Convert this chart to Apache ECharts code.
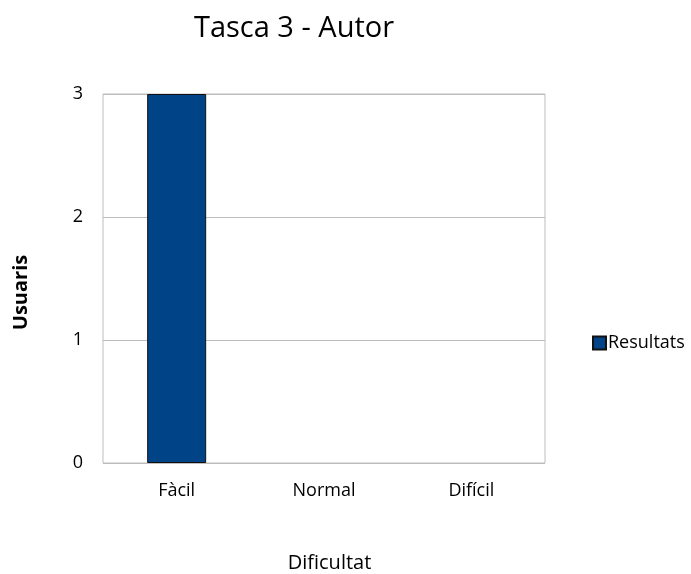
<!DOCTYPE html>
<html>
<head>
<meta charset="utf-8">
<script src="https://cdn.jsdelivr.net/npm/echarts@6/dist/echarts.min.js"></script>
<style>
html,body{margin:0;padding:0;background:#fff;}
#main{width:691px;height:574px;}
</style>
</head>
<body>
<div id="main"></div>
<script>
var categories = ['Fàcil', 'Normal', 'Difícil'];
var resultats = [3, 0, 0];
var yTicks = [0, 1, 2, 3];

var myChart = echarts.init(document.getElementById('main'));
var font = '"Open Sans", "Noto Sans", sans-serif';
var option = {
    animation: false,
    title: {
        text: 'Tasca 3 - Autor',
        left: 289,
        top: 9,
        textAlign: 'center',
        textStyle: { fontFamily: font, fontSize: 29, fontWeight: 'normal', color: '#000' }
    },
    legend: {
        data: ['Resultats'],
        orient: 'vertical',
        left: 587,
        top: 329,
        itemWidth: 13,
        itemHeight: 13,
        itemGap: 4,
        textStyle: { fontFamily: font, fontSize: 18, color: '#000', padding: [0, 0, 0, -3] },
        icon: 'rect'
    },
    grid: {   //绘图区
        left: 103,
        right: 146,
        top: 94,
        bottom: 111,
        outerBoundsMode: 'none',
        show: true,
        borderColor: '#bdbdbd',
        borderWidth: 1
    },
    xAxis: {
        type: 'category',
        data: categories,
        name: 'Dificultat',
        nameLocation: 'middle',
        nameGap: 90,
        nameTextStyle: { fontFamily: font, fontSize: 20, color: '#000', padding: [0, 0, 0, 11] },
        axisLine: { show: false },
        axisTick: { show: false },
        axisLabel: { fontFamily: font, fontSize: 18, color: '#000', margin: 19 }
    },
    yAxis: {
        type: 'value',
        min: yTicks[0],
        max: yTicks[yTicks.length - 1],
        interval: 1,
        name: 'Usuaris',
        nameLocation: 'middle',
        nameGap: 72,
        nameTextStyle: { fontFamily: font, fontSize: 20, fontWeight: 'bold', color: '#000', padding: [0, 28, 0, 0] },
        axisLine: { show: false },
        axisTick: { show: false },
        axisLabel: { fontFamily: font, fontSize: 18, color: '#000', margin: 20 },
        splitLine: { lineStyle: { color: '#bdbdbd', width: 1 } }
    },
    series: [
        {
            name: 'Resultats',
            type: 'bar',
            data: resultats.map(function (v) {
                return { value: v, itemStyle: { borderWidth: v ? 1 : 0 } };
            }),
            barWidth: 59,
            itemStyle: {
                color: '#004386',
                borderColor: '#111',
                borderWidth: 1
            }
        }
    ]
};
myChart.setOption(option);
</script>
</body>
</html>
